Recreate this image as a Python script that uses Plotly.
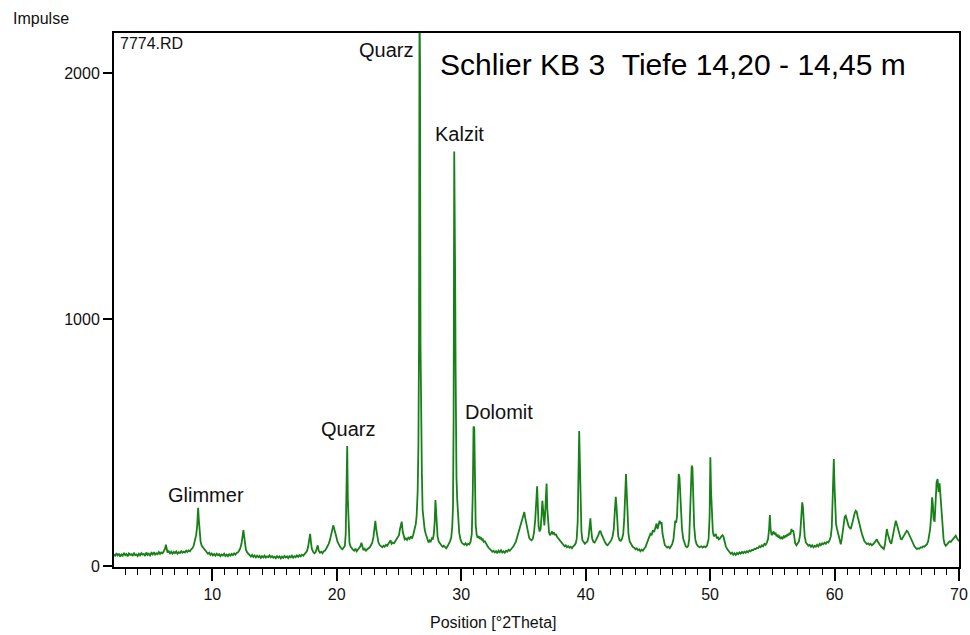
import plotly.graph_objects as go

# Hand-read diffractogram points [2theta, impulse], by region
scan_02_15 = [
    [2.1,48],[2.2,40],[2.3,52],[2.4,43],[2.5,50],[2.6,38],[2.7,47],[2.8,42],[2.9,53],[3.0,44],
    [3.1,49],[3.2,39],[3.3,51],[3.4,45],[3.5,48],[3.6,41],[3.7,54],[3.8,44],[3.9,47],[4.0,40],
    [4.1,50],[4.2,43],[4.3,52],[4.4,46],[4.5,49],[4.6,41],[4.7,55],[4.8,45],[4.9,50],[5.0,43],
    [5.1,53],[5.2,47],[5.3,56],[5.4,46],[5.5,52],[5.6,48],[5.7,57],[5.8,49],[5.9,55],[6.0,52],
    [6.1,60],[6.2,70],[6.27,86],[6.33,66],[6.4,55],[6.5,60],[6.6,51],[6.7,58],[6.8,50],[6.9,57],
    [7.0,52],[7.1,59],[7.2,50],[7.3,56],[7.4,53],[7.5,60],[7.6,54],[7.7,58],[7.8,55],[7.9,62],
    [8.0,57],[8.1,63],[8.2,60],[8.3,68],[8.4,72],[8.5,82],[8.6,100],[8.7,125],[8.78,160],[8.86,236],
    [8.92,185],[8.98,125],[9.06,98],[9.15,82],[9.25,75],[9.35,66],[9.45,60],[9.55,55],[9.65,50],[9.75,54],
    [9.85,45],[9.95,51],[10.05,43],[10.15,49],[10.25,42],[10.35,50],[10.45,44],[10.55,48],[10.65,40],[10.75,47],
    [10.85,43],[10.95,50],[11.05,41],[11.15,46],[11.25,40],[11.35,48],[11.45,42],[11.55,49],[11.65,44],[11.75,51],
    [11.85,46],[11.95,53],[12.05,55],[12.15,62],[12.25,72],[12.35,92],[12.42,115],[12.5,146],[12.56,120],[12.62,88],
    [12.7,66],[12.8,55],[12.9,47],[13.0,44],[13.1,38],[13.2,45],[13.3,37],[13.4,43],[13.5,35],[13.6,42],
    [13.7,36],[13.8,41],[13.9,33],[14.0,40],[14.1,35],[14.2,42],[14.3,34],[14.4,39],[14.5,36],[14.6,43],
    [14.7,35],[14.8,40],[14.9,34],
]
scan_15_30 = [
    [15.0,38],[15.1,32],[15.2,40],[15.3,34],[15.4,39],[15.5,31],[15.6,38],[15.7,33],[15.8,41],[15.9,35],
    [16.0,39],[16.1,32],[16.2,40],[16.3,35],[16.4,42],[16.5,34],[16.6,40],[16.7,36],[16.8,43],[16.9,37],
    [17.0,44],[17.1,39],[17.2,46],[17.3,42],[17.4,48],[17.5,52],[17.6,60],[17.7,78],[17.78,100],[17.86,130],
    [17.93,95],[18.0,70],[18.1,58],[18.2,52],[18.3,56],[18.4,68],[18.47,84],[18.55,62],[18.65,54],[18.75,58],
    [18.85,52],[18.95,60],[19.05,62],[19.15,70],[19.25,78],[19.35,90],[19.45,105],[19.55,125],[19.65,140],[19.72,165],
    [19.8,150],[19.88,138],[19.96,120],[20.05,100],[20.15,88],[20.25,80],[20.35,72],[20.45,68],[20.55,74],[20.65,82],
    [20.72,130],[20.78,275],[20.84,487],[20.89,270],[20.95,140],[21.02,95],[21.1,80],[21.2,72],[21.3,66],[21.4,62],
    [21.5,70],[21.6,60],[21.7,66],[21.8,72],[21.9,80],[21.98,94],[22.06,72],[22.15,64],[22.25,70],[22.35,62],
    [22.45,68],[22.55,72],[22.65,76],[22.75,84],[22.85,95],[22.95,118],[23.03,150],[23.1,183],[23.17,150],[23.25,115],
    [23.35,95],[23.45,85],[23.55,80],[23.65,76],[23.75,82],[23.85,78],[23.95,86],[24.05,82],[24.15,90],[24.25,96],
    [24.32,104],[24.4,90],[24.5,95],[24.6,92],[24.7,100],[24.8,105],[24.9,115],[25.0,125],[25.08,150],[25.15,175],
    [25.22,180],[25.3,140],[25.38,118],[25.46,108],[25.55,112],[25.65,106],[25.75,115],[25.85,110],[25.95,120],[26.05,112],
    [26.15,128],[26.25,145],[26.35,170],[26.42,205],[26.5,300],[26.56,484],[26.61,900],[26.65,2300],[26.69,2032],[26.73,900],
    [26.76,629],[26.8,493],[26.84,373],[26.9,227],[26.98,180],[27.06,150],[27.14,132],[27.22,118],[27.3,105],[27.38,95],
    [27.46,104],[27.55,100],[27.64,112],[27.72,108],[27.8,130],[27.87,180],[27.93,268],[27.98,230],[28.03,165],[28.1,120],
    [28.2,98],[28.3,90],[28.4,84],[28.5,78],[28.6,82],[28.7,76],[28.8,72],[28.9,80],[29.0,88],[29.1,100],
    [29.2,115],[29.28,160],[29.34,240],[29.39,600],[29.44,1681],[29.48,1501],[29.52,1113],[29.55,800],[29.58,568],[29.62,358],
    [29.68,268],[29.75,190],[29.84,134],[29.94,108],
]
scan_30_45 = [
    [30.04,95],[30.15,90],[30.25,86],[30.35,92],[30.45,84],[30.55,90],[30.65,88],[30.75,98],[30.85,130],[30.93,296],
    [30.99,566],[31.05,560],[31.1,300],[31.16,170],[31.24,128],[31.32,115],[31.4,122],[31.48,110],[31.56,118],[31.64,104],
    [31.72,112],[31.8,98],[31.9,100],[32.0,88],[32.1,82],[32.2,74],[32.3,70],[32.4,64],[32.5,58],[32.6,62],
    [32.7,55],[32.8,60],[32.9,52],[33.0,62],[33.1,56],[33.2,64],[33.3,55],[33.4,60],[33.5,54],[33.6,62],
    [33.7,58],[33.8,66],[33.9,62],[34.0,70],[34.1,74],[34.2,80],[34.3,88],[34.4,100],[34.5,118],[34.6,135],
    [34.7,150],[34.8,172],[34.9,188],[35.0,205],[35.07,219],[35.14,196],[35.22,178],[35.3,150],[35.38,128],[35.46,115],
    [35.55,108],[35.65,104],[35.75,110],[35.85,135],[35.95,190],[36.03,280],[36.1,323],[36.16,240],[36.22,160],[36.3,140],
    [36.38,150],[36.45,200],[36.52,265],[36.58,230],[36.63,175],[36.68,165],[36.74,210],[36.8,280],[36.86,335],[36.92,230],
    [36.98,160],[37.06,135],[37.14,125],[37.22,132],[37.3,140],[37.38,128],[37.46,136],[37.54,125],[37.62,130],[37.7,118],
    [37.8,112],[37.9,104],[38.0,96],[38.1,90],[38.2,86],[38.3,80],[38.4,84],[38.5,76],[38.6,80],[38.7,74],
    [38.8,78],[38.9,72],[39.0,80],[39.1,84],[39.2,92],[39.28,110],[39.36,180],[39.42,414],[39.48,548],[39.54,414],
    [39.6,220],[39.66,140],[39.74,105],[39.84,94],[39.94,90],[40.04,96],[40.14,100],[40.24,120],[40.32,160],[40.38,193],
    [40.44,150],[40.52,112],[40.62,98],[40.72,95],[40.82,104],[40.92,112],[41.02,125],[41.1,138],[41.18,143],[41.26,130],
    [41.36,118],[41.46,104],[41.56,96],[41.66,88],[41.76,84],[41.86,90],[41.96,96],[42.06,105],[42.16,120],[42.26,150],
    [42.34,220],[42.42,281],[42.48,240],[42.54,160],[42.62,120],[42.72,105],[42.82,102],[42.92,110],[43.02,130],[43.1,190],
    [43.17,300],[43.24,373],[43.3,300],[43.36,190],[43.44,130],[43.54,100],[43.66,88],[43.78,78],[43.9,74],[44.0,68],
    [44.1,72],[44.2,64],[44.3,68],[44.4,60],[44.5,66],[44.6,62],[44.7,70],[44.8,76],[44.9,90],
]
scan_45_70 = [
    [45.0,105],[45.1,118],[45.2,130],[45.3,125],[45.4,145],[45.5,138],[45.6,160],[45.7,172],[45.78,150],[45.86,176],
    [45.94,184],[46.02,170],[46.1,178],[46.18,130],[46.26,100],[46.36,85],[46.46,80],[46.56,75],[46.66,78],[46.76,72],
    [46.86,80],[46.96,90],[47.06,110],[47.14,150],[47.2,184],[47.27,175],[47.34,200],[47.42,300],[47.48,373],[47.54,360],
    [47.6,280],[47.66,200],[47.74,150],[47.84,110],[47.94,90],[48.04,80],[48.14,76],[48.24,82],[48.32,110],[48.4,220],
    [48.47,380],[48.52,407],[48.58,400],[48.64,280],[48.72,160],[48.82,105],[48.92,88],[49.04,80],[49.16,76],[49.28,80],
    [49.4,75],[49.52,80],[49.64,76],[49.76,84],[49.88,110],[49.96,200],[50.02,441],[50.08,300],[50.14,200],[50.22,140],
    [50.3,120],[50.38,125],[50.46,130],[50.54,112],[50.62,118],[50.7,108],[50.8,112],[50.9,120],[51.0,125],[51.08,118],
    [51.16,100],[51.26,80],[51.36,70],[51.46,62],[51.56,56],[51.66,50],[51.76,54],[51.86,46],[51.96,52],[52.06,45],
    [52.16,53],[52.26,48],[52.36,55],[52.46,50],[52.56,57],[52.66,52],[52.76,58],[52.86,54],[52.96,60],[53.06,56],
    [53.16,63],[53.26,60],[53.36,66],[53.46,64],[53.56,70],[53.66,68],[53.76,74],[53.86,72],[53.96,80],[54.06,76],
    [54.16,84],[54.26,80],[54.36,90],[54.46,86],[54.56,95],[54.66,110],[54.74,150],[54.8,207],[54.86,150],[54.94,125],
    [55.02,132],[55.1,140],[55.18,128],[55.26,135],[55.34,120],[55.42,128],[55.5,115],[55.58,120],[55.66,110],[55.74,116],
    [55.82,112],[55.9,120],[55.98,114],[56.06,125],[56.14,118],[56.22,130],[56.3,124],[56.38,135],[56.46,128],[56.54,150],
    [56.6,140],[56.68,145],[56.76,120],[56.84,92],[56.94,84],[57.04,90],[57.14,100],[57.24,130],[57.32,200],[57.4,258],
    [57.46,240],[57.52,180],[57.6,120],[57.7,95],[57.8,88],[57.9,82],[58.0,86],[58.1,78],[58.2,84],[58.3,76],
    [58.4,82],[58.5,78],[58.6,86],[58.7,80],[58.8,90],[58.9,84],[59.0,92],[59.1,88],[59.2,95],[59.3,90],
    [59.4,98],[59.5,95],[59.6,105],[59.7,120],[59.78,160],[59.86,300],[59.94,434],[60.0,320],[60.06,230],[60.12,170],
    [60.2,150],[60.28,130],[60.36,110],[60.44,95],[60.5,88],[60.58,110],[60.66,150],[60.74,185],[60.82,200],[60.9,204],
    [60.98,185],[61.06,170],[61.14,160],[61.22,155],[61.3,150],[61.38,165],[61.46,185],[61.54,205],[61.62,215],[61.7,224],
    [61.78,220],[61.86,200],[61.94,180],[62.02,165],[62.1,150],[62.2,130],[62.3,115],[62.4,100],[62.5,95],[62.6,89],
    [62.7,92],[62.8,86],[62.9,90],[63.0,84],[63.1,88],[63.2,94],[63.3,100],[63.4,108],[63.48,98],[63.56,90],
    [63.66,84],[63.76,78],[63.86,72],[63.96,69],[64.04,85],[64.12,120],[64.2,150],[64.28,130],[64.36,110],[64.46,98],
    [64.56,90],[64.66,120],[64.76,150],[64.84,170],[64.92,184],[65.0,170],[65.08,155],[65.16,140],[65.24,125],[65.32,110],
    [65.4,108],[65.5,118],[65.6,125],[65.7,135],[65.8,143],[65.88,140],[65.96,130],[66.04,120],[66.12,115],[66.22,100],
    [66.32,88],[66.42,80],[66.52,74],[66.62,69],[66.72,72],[66.82,70],[66.92,76],[67.02,74],[67.12,80],[67.22,78],
    [67.32,84],[67.42,88],[67.52,100],[67.6,120],[67.68,150],[67.76,200],[67.84,279],[67.9,250],[67.96,190],[68.04,180],
    [68.12,250],[68.2,340],[68.28,353],[68.36,300],[68.44,335],[68.52,280],[68.6,200],[68.68,150],[68.76,110],[68.84,90],
    [68.94,82],[69.04,88],[69.14,95],[69.24,100],[69.34,98],[69.44,105],[69.54,110],[69.64,115],[69.74,123],[69.84,112],
    [69.94,105],[70.0,100],
]

peak_labels = ["Glimmer", "Quarz", "Quarz", "Kalzit", "Dolomit"]
label_x = [9.5, 20.93, 23.95, 29.9, 33.0]
label_y = [290, 555, 2095, 1752, 625]

x_ticks = [10, 20, 30, 40, 50, 60, 70]
y_ticks = [0, 1000, 2000]

scan = scan_02_15 + scan_15_30 + scan_30_45 + scan_45_70
two_theta = [p[0] for p in scan]
impulse = [p[1] for p in scan]

FONT = "Liberation Sans, Arial, sans-serif"

fig = go.Figure()
fig.add_trace(go.Scatter(
    x=two_theta, y=impulse, mode="lines",
    line=dict(color="rgb(24,128,24)", width=1.8),
    showlegend=False, hoverinfo="x+y",
))

for t, lx, ly in zip(peak_labels, label_x, label_y):
    fig.add_annotation(x=lx, y=ly, xref="x", yref="y", text=t, showarrow=False,
                       font=dict(family=FONT, size=20, color="#111"))

fig.add_annotation(x=28.1, y=2035, xref="x", yref="y", xanchor="left",
                   text="Schlier KB 3&nbsp;&nbsp;Tiefe 14,20 - 14,45 m", showarrow=False,
                   font=dict(family=FONT, size=30, color="#000"))
fig.add_annotation(x=2.45, y=2118, xref="x", yref="y", xanchor="left",
                   text="7774.RD", showarrow=False,
                   font=dict(family=FONT, size=16, color="#111"))
fig.add_annotation(x=-0.122, y=1.027, xref="paper", yref="paper", xanchor="left",
                   yanchor="middle", text="Impulse", showarrow=False,
                   font=dict(family=FONT, size=16, color="#111"))
fig.add_annotation(x=0.4485, y=-0.103, xref="paper", yref="paper", xanchor="center",
                   yanchor="middle", text="Position [°2Theta]", showarrow=False,
                   font=dict(family=FONT, size=16, color="#111"))

fig.update_layout(
    width=970, height=635, autosize=False,
    margin=dict(l=114, r=11, t=33, b=68, autoexpand=False),
    paper_bgcolor="white", plot_bgcolor="white",
    font=dict(family=FONT, size=16, color="#111"),
    xaxis=dict(range=[2.1, 70], tickvals=x_ticks, ticks="outside", ticklen=12,
               tickwidth=1.5, tickcolor="black", showline=True, linewidth=2,
               linecolor="black", mirror=True, showgrid=False, zeroline=False,
               automargin=False, tickfont=dict(size=16),
               minor=dict(dtick=1, tick0=0, ticks="outside", ticklen=6,
                          tickcolor="black", tickwidth=1.2, showgrid=False)),
    yaxis=dict(range=[-4, 2162], tickvals=y_ticks, ticks="outside", ticklen=9,
               tickwidth=1.5, tickcolor="black", showline=True, linewidth=2,
               linecolor="black", mirror=True, showgrid=False, zeroline=False,
               automargin=False, tickfont=dict(size=16)),
)

# remove the default 8 px page margin so the figure fills the window exactly
fig.write_html("out.html",
               config={"displayModeBar": False, "responsive": False},
               post_script="document.body.style.margin='0';document.body.style.overflow='hidden';")
